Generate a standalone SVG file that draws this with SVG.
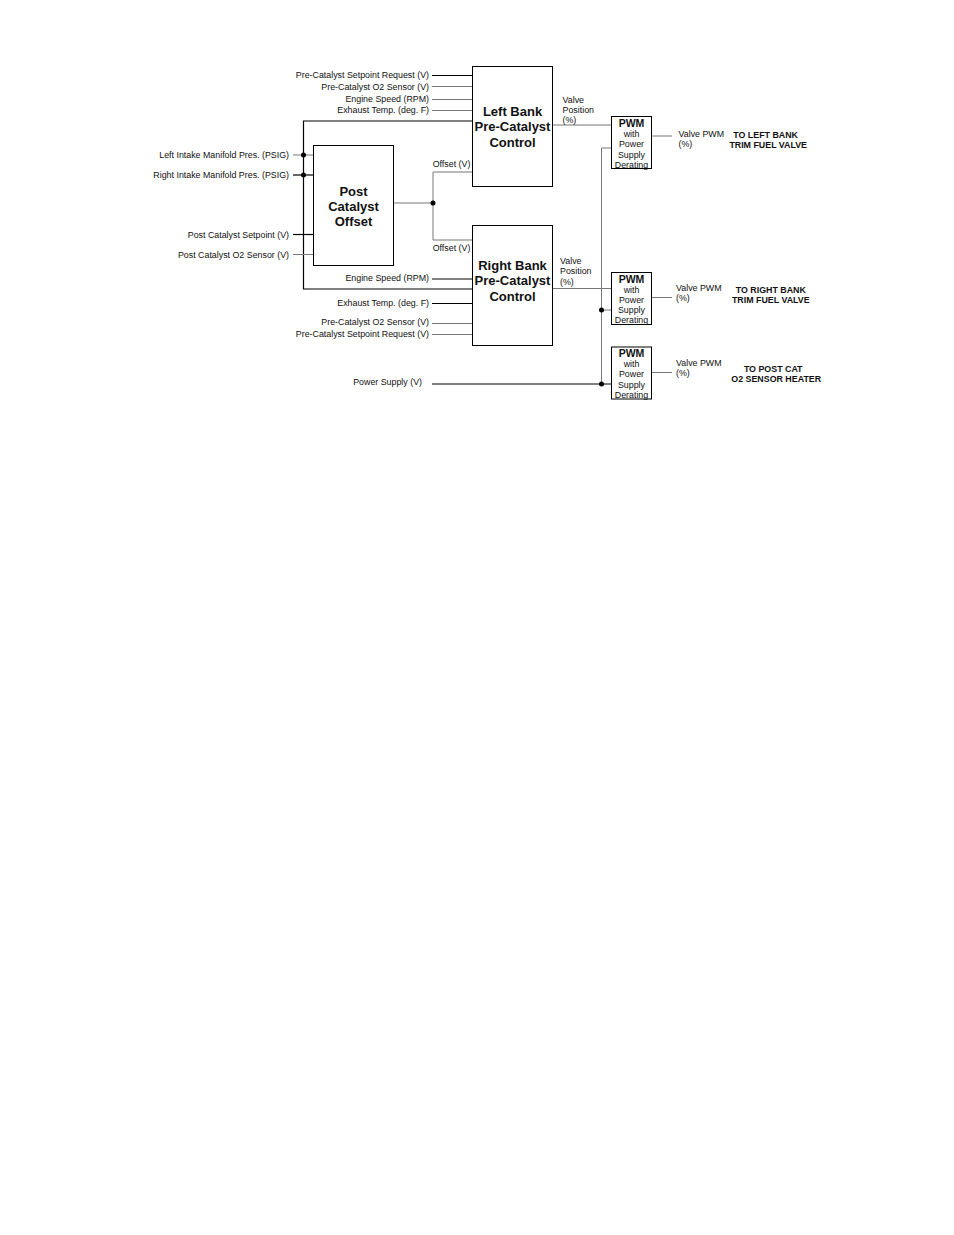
<svg xmlns="http://www.w3.org/2000/svg" width="954" height="1235" viewBox="0 0 954 1235">
<style>
text{font-family:"Liberation Sans",Arial,sans-serif;fill:#111}
.s{font-size:8.85px}
.e{text-anchor:end}
.m{text-anchor:middle}
.b{font-weight:bold}
.big{font-size:13px;font-weight:bold;text-anchor:middle}
.pwm{font-size:10.5px;font-weight:bold;text-anchor:middle}
.box{fill:#fff;stroke:#000;stroke-width:1}
.k{stroke:#000;stroke-width:1.2;fill:none}
.g{stroke:#777;stroke-width:1;fill:none}
.dot{fill:#000}
</style>
<rect width="954" height="1235" fill="#fff"/>
<g id="connectors">
<line class="k" x1="432" y1="75.5" x2="472" y2="75.5"/>
<line class="g" x1="432" y1="86.5" x2="472" y2="86.5"/>
<line class="g" x1="432" y1="99.5" x2="472" y2="99.5"/>
<line class="g" x1="432" y1="110.5" x2="472" y2="110.5"/>
<polyline class="k" points="472,121 303.5,121 303.5,289 472,289"/>
<line class="g" x1="293" y1="155" x2="313" y2="155"/>
<line class="k" x1="293" y1="175" x2="313" y2="175"/>
<line class="k" x1="293" y1="234.5" x2="313" y2="234.5"/>
<line class="g" x1="293" y1="254.5" x2="313" y2="254.5"/>
<line class="g" x1="393" y1="203" x2="433" y2="203"/>
<polyline class="g" points="472,172 433,172 433,240 472,240"/>
<line class="k" x1="432" y1="279" x2="472" y2="279"/>
<line class="k" x1="432" y1="303.5" x2="472" y2="303.5"/>
<line class="g" x1="432" y1="323.5" x2="472" y2="323.5"/>
<line class="g" x1="432" y1="334.5" x2="472" y2="334.5"/>
<line class="g" x1="552" y1="125" x2="611" y2="125"/>
<line class="g" x1="552" y1="288.5" x2="611" y2="288.5"/>
<polyline class="g" points="611,148 601.5,148 601.5,384"/>
<line class="g" x1="601.5" y1="310" x2="611" y2="310"/>
<line class="k" x1="432" y1="384" x2="611" y2="384"/>
<line class="g" x1="652" y1="136" x2="672" y2="136"/>
<line class="g" x1="652" y1="297.5" x2="672" y2="297.5"/>
<line class="g" x1="652" y1="372.5" x2="672" y2="372.5"/>
<circle class="dot" cx="303.5" cy="155" r="2.5"/>
<circle class="dot" cx="303.5" cy="175" r="2.5"/>
<circle class="dot" cx="433" cy="203" r="2.5"/>
<circle class="dot" cx="601.5" cy="310" r="2.5"/>
<circle class="dot" cx="601.5" cy="384" r="2.5"/>
</g>
<g id="labels">
<text class="s e" x="429" y="78">Pre-Catalyst Setpoint Request (V)</text>
<text class="s e" x="429" y="89.5">Pre-Catalyst O2 Sensor (V)</text>
<text class="s e" x="429" y="102">Engine Speed (RPM)</text>
<text class="s e" x="429" y="113">Exhaust Temp. (deg. F)</text>
<text class="s e" x="289" y="158">Left Intake Manifold Pres. (PSIG)</text>
<text class="s e" x="289" y="178">Right Intake Manifold Pres. (PSIG)</text>
<text class="s e" x="289" y="237.8">Post Catalyst Setpoint (V)</text>
<text class="s e" x="289" y="258">Post Catalyst O2 Sensor (V)</text>
<text class="s" x="432.7" y="166.5">Offset (V)</text>
<text class="s" x="432.7" y="251">Offset (V)</text>
<text class="s e" x="429" y="280.8">Engine Speed (RPM)</text>
<text class="s e" x="429" y="305.8">Exhaust Temp. (deg. F)</text>
<text class="s e" x="429" y="325.4">Pre-Catalyst O2 Sensor (V)</text>
<text class="s e" x="429" y="337.4">Pre-Catalyst Setpoint Request (V)</text>
<text class="s e" x="422" y="385.4">Power Supply (V)</text>
<text class="s" x="562.5" y="103">Valve</text>
<text class="s" x="562.5" y="113">Position</text>
<text class="s" x="562.5" y="123">(%)</text>
<text class="s" x="560" y="264">Valve</text>
<text class="s" x="560" y="274">Position</text>
<text class="s" x="560" y="284.5">(%)</text>
<text class="s" x="678.5" y="137">Valve PWM</text>
<text class="s" x="678.5" y="147">(%)</text>
<text class="s" x="676" y="291.4">Valve PWM</text>
<text class="s" x="676" y="301.4">(%)</text>
<text class="s" x="676" y="366.4">Valve PWM</text>
<text class="s" x="676" y="376.4">(%)</text>
<text class="s b m" x="765.6" y="137.5">TO LEFT BANK</text>
<text class="s b m" x="768.2" y="148">TRIM FUEL VALVE</text>
<text class="s b m" x="770.8" y="293">TO RIGHT BANK</text>
<text class="s b m" x="770.8" y="303.4">TRIM FUEL VALVE</text>
<text class="s b m" x="773.2" y="372.4">TO POST CAT</text>
<text class="s b m" x="776.2" y="382.4">O2 SENSOR HEATER</text>
</g>
<g id="left-bank">
<rect class="box" x="472.5" y="66.5" width="80" height="120"/>
<text class="big" x="512.5" y="115.5">Left Bank</text>
<text class="big" x="512.5" y="131">Pre-Catalyst</text>
<text class="big" x="512.5" y="146.5">Control</text>
</g>
<g id="post-catalyst-offset">
<rect class="box" x="313.5" y="145.5" width="80" height="120"/>
<text class="big" x="353.5" y="195.7">Post</text>
<text class="big" x="353.5" y="210.7">Catalyst</text>
<text class="big" x="353.5" y="225.7">Offset</text>
</g>
<g id="right-bank">
<rect class="box" x="472.5" y="225.5" width="80" height="120"/>
<text class="big" x="512.5" y="270.4">Right Bank</text>
<text class="big" x="512.5" y="285.4">Pre-Catalyst</text>
<text class="big" x="512.5" y="300.7">Control</text>
</g>
<g id="pwm-1">
<rect class="box" x="611.5" y="116.5" width="40" height="52"/>
<text class="pwm" x="631.5" y="127">PWM</text>
<text class="s m" x="631.5" y="137">with</text>
<text class="s m" x="631.5" y="147.3">Power</text>
<text class="s m" x="631.5" y="157.5">Supply</text>
<text class="s m" x="631.5" y="167.5">Derating</text>
</g>
<g id="pwm-2">
<rect class="box" x="611.5" y="272.5" width="40" height="52"/>
<text class="pwm" x="631.5" y="282.5">PWM</text>
<text class="s m" x="631.5" y="292.5">with</text>
<text class="s m" x="631.5" y="302.8">Power</text>
<text class="s m" x="631.5" y="313">Supply</text>
<text class="s m" x="631.5" y="323">Derating</text>
</g>
<g id="pwm-3">
<rect class="box" x="611.5" y="347" width="40" height="52"/>
<text class="pwm" x="631.5" y="357">PWM</text>
<text class="s m" x="631.5" y="367">with</text>
<text class="s m" x="631.5" y="377.3">Power</text>
<text class="s m" x="631.5" y="387.5">Supply</text>
<text class="s m" x="631.5" y="397.5">Derating</text>
</g>
</svg>
